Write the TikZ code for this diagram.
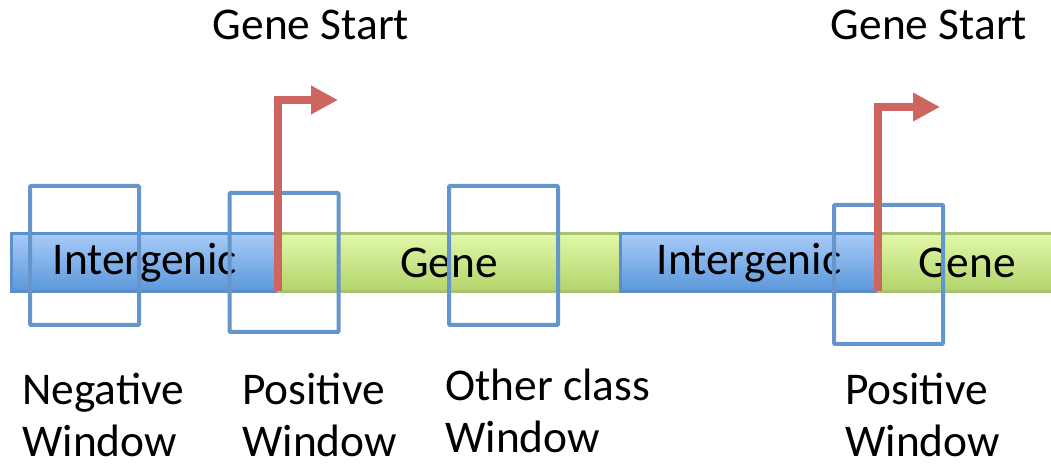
\documentclass[tikz,border=0pt]{standalone}
\usepackage{fontspec}
\setmainfont{Carlito}
\usetikzlibrary{positioning,arrows.meta}

\definecolor{igline}{HTML}{5B8FCB}
\definecolor{igtop}{HTML}{A8CBF9}
\definecolor{igbot}{HTML}{5A97D9}
\definecolor{geneline}{HTML}{A7C46C}
\definecolor{genetop}{HTML}{E1F9A9}
\definecolor{genebot}{HTML}{B3D36A}
\definecolor{winline}{HTML}{6596CB}
\definecolor{tssred}{HTML}{CD6661}

\newcommand{\lblfont}{\fontsize{32.3}{37}\selectfont}

\tikzset{
	bar/.style={draw, line width=0.075cm, outer sep=0pt, inner sep=0pt,
		minimum height=1.45cm, font=\lblfont},
	igbar/.style={bar, draw=igline, top color=igtop, bottom color=igbot},
	genebar/.style={bar, draw=geneline, top color=genetop, bottom color=genebot},
	window/.style={draw=winline, line width=0.1cm, rounded corners=0.6pt,
		minimum width=2.725cm, minimum height=3.475cm},
	tss/.style={draw=tssred, line width=0.2cm,
		-{Triangle[length=0.675cm,width=0.675cm]}},
	caption/.style={font=\lblfont, align=left, anchor=base west, inner sep=0pt}
}

\begin{document}
\begin{tikzpicture}
	\useasboundingbox (0,0) rectangle (26.275,11.725);
	
	% the strand: intergenic and gene stretches
	\node[igbar, minimum width=6.66cm] (ig1) at (3.62,5.1625) {Intergenic};
	\node[genebar, minimum width=8.55cm, right=0pt of ig1] (gene1) {Gene};
	\node[igbar, minimum width=6.45cm, right=0pt of gene1] (ig2) {Intergenic};
	\node[genebar, minimum width=4.45cm, right=0pt of ig2] (gene2) {Gene};
	
	% sliding windows
	\node[window] (w1) at (2.1125,5.3375) {};
	\node[window] (w2) at (7.1,5.1625) {};
	\node[window] (w3) at (12.5875,5.3375) {};
	\node[window] (w4) at (22.2125,4.8625) {};
	
	% transcription start sites
	\coordinate (tip1) at (8.45,9.225);
	\coordinate (tip2) at (23.5,9.05);
	\draw[tss] (ig1.south east) |- (tip1);
	\draw[tss] (ig2.south east) |- (tip2);
	
	\node[font=\lblfont, anchor=base] (start1) at (7.775,10.725) {Gene Start};
	\node[font=\lblfont, anchor=base] (start2) at (23.225,10.725) {Gene Start};
	
	% base anchor sits on the last line
	\node[caption] (neg) at (0.55,0.3) {Negative\\Window};
	\node[caption] (pos1) at (6.05,0.3) {Positive\\Window};
	\node[caption] (other) at (11.125,0.4) {Other class\\Window};
	\node[caption] (pos2) at (21.125,0.3) {Positive\\Window};
\end{tikzpicture}
\end{document}
